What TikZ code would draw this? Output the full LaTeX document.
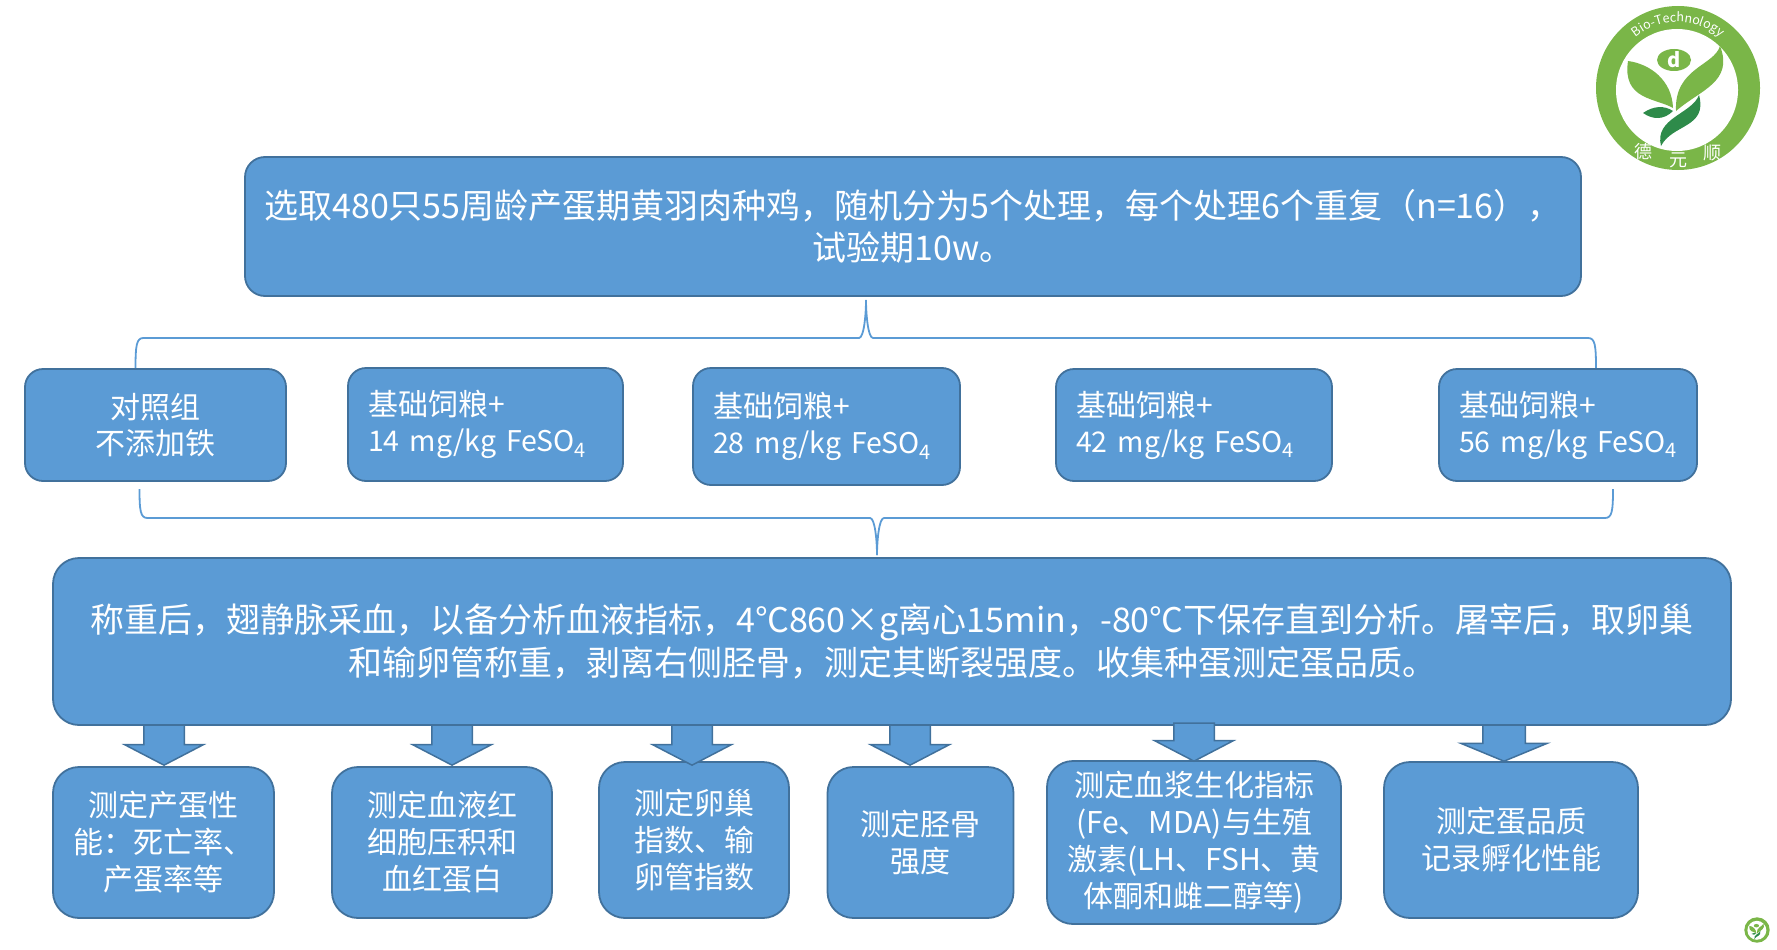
\documentclass[tikz,border=0pt]{standalone}
\usepackage{fontspec}
\setmainfont{Noto Sans CJK SC}
\usetikzlibrary{shapes.arrows,decorations.text}
\definecolor{boxblue}{HTML}{5B9BD5}
\definecolor{boxedge}{HTML}{41719C}
\definecolor{logogreen}{HTML}{7AB648}
\definecolor{logodark}{HTML}{2E8B4A}
\newcommand{\sizeof}[2]{\fontsize{#1}{#2}\selectfont}
\newcommand{\dose}[1]{{\sizeof{28.5}{36}#1 mg/kg FeSO\textsubscript{4}}}
\tikzset{
  box/.style={draw=boxedge, fill=boxblue, line width=1.8pt, text=white, align=center, inner sep=0pt},
  topbox/.style={box, rounded corners=20pt, font=\sizeof{34}{42}},
  groupbox/.style={box, rounded corners=18pt, font=\sizeof{30}{36}},
  feedbox/.style={groupbox, align=left},
  mainbox/.style={box, rounded corners=26pt, font=\sizeof{34}{43}},
  testbox/.style={box, rounded corners=26pt, font=\sizeof{30}{37}},
  bracket/.style={draw=boxblue, line width=1.8pt},
  downarrow/.style={draw=boxedge, fill=boxblue, line width=1.5pt, single arrow, shape border rotate=270, inner ysep=0pt, inner xsep=19.5pt, minimum height=40pt, single arrow head extend=19pt, single arrow tip angle=125, anchor=tip},
  logotext/.style={text=white, inner sep=0pt, font=\sizeof{18}{18}},
  pics/logomark/.style={code={
    \fill[logogreen] (0,0) circle[radius=82];
    \fill[white] (-1,2) circle[radius=61];
    \fill[logogreen] (-50,-27) .. controls (-28,-24) and (-6,-8) .. (-5,20)
      .. controls (-22,10) and (-56,12) .. cycle;
    \fill[logogreen] (42,-42) .. controls (36,-22) and (-4,-20) .. (-2,23)
      .. controls (22,2) and (56,-6) .. cycle;
    \fill[logodark] (-35,25) .. controls (-25,18) and (-14,17) .. (-5,23)
      .. controls (-14,32) and (-25,32) .. cycle;
    \fill[logodark] (-17,58) .. controls (-24,30) and (14,26) .. (21,7)
      .. controls (30,40) and (-6,36) .. cycle;
    \fill[logogreen] (-4,-28) ellipse[x radius=17, y radius=11];
  }},
}
\begin{document}
\begin{tikzpicture}[x=1pt,y=-1pt]
\useasboundingbox (0,0) rectangle (1777,950);
% braces
\coordinate (up left) at (135.5,369);
\coordinate (up right) at (1596,369);
\coordinate (up mid) at (866,338);
\coordinate (up apex) at (866,300);
\draw[bracket] (up left) .. controls +(0,-24) and +(-7,0) .. ([xshift=8pt]up left |- up mid) -- ([xshift=-7pt]up mid) .. controls +(5,0) and +(0,14) .. (up apex);
\draw[bracket] (up right) .. controls +(0,-24) and +(7,0) .. ([xshift=-8pt]up right |- up mid) -- ([xshift=7pt]up mid) .. controls +(-5,0) and +(0,14) .. (up apex);
\coordinate (low left) at (139.5,489);
\coordinate (low right) at (1613,489);
\coordinate (low mid) at (877,518);
\coordinate (low apex) at (877,555);
\draw[bracket] (low left) .. controls +(0,22) and +(-7,0) .. ([xshift=8pt]low left |- low mid) -- ([xshift=-7pt]low mid) .. controls +(5,0) and +(0,-14) .. (low apex);
\draw[bracket] (low right) .. controls +(0,22) and +(7,0) .. ([xshift=-8pt]low right |- low mid) -- ([xshift=7pt]low mid) .. controls +(-5,0) and +(0,-14) .. (low apex);
% top
\node[topbox, minimum width=1336pt, minimum height=139pt] (trial) at (913,226.5) {选取480只55周龄产蛋期黄羽肉种鸡，随机分为5个处理，每个处理6个重复（n=16），\\试验期10w。};
% groups
\node[groupbox, minimum width=261pt, minimum height=112pt] (control) at (155.5,425) {对照组\\不添加铁};
\node[feedbox, text width=235pt, minimum width=275pt, minimum height=113pt, inner xsep=20pt] (fe14) at (485.5,424.5) {基础饲粮+\\\dose{14}};
\node[feedbox, text width=227pt, minimum width=267pt, minimum height=117pt, inner xsep=20pt] (fe28) at (826.5,426.5) {基础饲粮+\\\dose{28}};
\node[feedbox, text width=236pt, minimum width=276pt, minimum height=112pt, inner xsep=20pt] (fe42) at (1194,425) {基础饲粮+\\\dose{42}};
\node[feedbox, text width=218pt, minimum width=258pt, minimum height=112pt, inner xsep=20pt] (fe56) at (1568,425) {基础饲粮+\\\dose{56}};
% main
\node[mainbox, minimum width=1678pt, minimum height=167pt] (sampling) at (892,641.5) {称重后，翅静脉采血，以备分析血液指标，4℃860×g离心15min，-80℃下保存直到分析。屠宰后，取卵巢\\和输卵管称重，剥离右侧胫骨，测定其断裂强度。收集种蛋测定蛋品质。};
% tests
\node[testbox, minimum width=221pt, minimum height=151pt] (laying) at (163.5,842.5) {测定产蛋性\\能：死亡率、\\产蛋率等};
\node[testbox, minimum width=220pt, minimum height=151pt] (blood) at (442,842.5) {测定血液红\\细胞压积和\\血红蛋白};
\node[testbox, minimum width=190pt, minimum height=156pt] (ovary) at (694,840) {测定卵巢\\指数、输\\卵管指数};
\node[testbox, minimum width=186pt, minimum height=151pt] (tibia) at (920.5,842.5) {测定胫骨\\强度};
\node[testbox, minimum width=294pt, minimum height=163pt] (plasma) at (1194,842.5) {测定血浆生化指标\\(Fe、MDA)与生殖\\激素(LH、FSH、黄\\体酮和雌二醇等)};
\node[testbox, minimum width=254pt, minimum height=156pt] (egg) at (1511,840) {测定蛋品质\\记录孵化性能};
% arrows
\node[downarrow] (arrow laying) at (164,766) {};
\node[downarrow] (arrow blood) at (452,766) {};
\node[downarrow] (arrow ovary) at (692,766) {};
\node[downarrow] (arrow tibia) at (910,766) {};
\node[downarrow, minimum height=38pt] (arrow plasma) at (1194,762) {};
\node[downarrow, inner xsep=20.5pt, minimum height=36pt, single arrow head extend=22pt, single arrow tip angle=135] (arrow egg) at (1504,762) {};
% logo
\pic at (1678,88) {logomark};
\node[inner sep=0pt, text=white, font=\sizeof{20}{20}\bfseries] (logo d) at (1674,60) {d};
\path[decorate, decoration={text along path, text align=center, text={|\sizeof{12.5}{14}\color{white}|Bio-Technology}}] (1678,88) ++(212:66) arc[start angle=212, end angle=328, radius=66];
\node[logotext] (logo de) at (1643,152) {德};
\node[logotext] (logo yuan) at (1678,160) {元};
\node[logotext] (logo shun) at (1712,153) {顺};
\pic[scale=0.155] at (1757,930) {logomark};
\end{tikzpicture}
\end{document}
